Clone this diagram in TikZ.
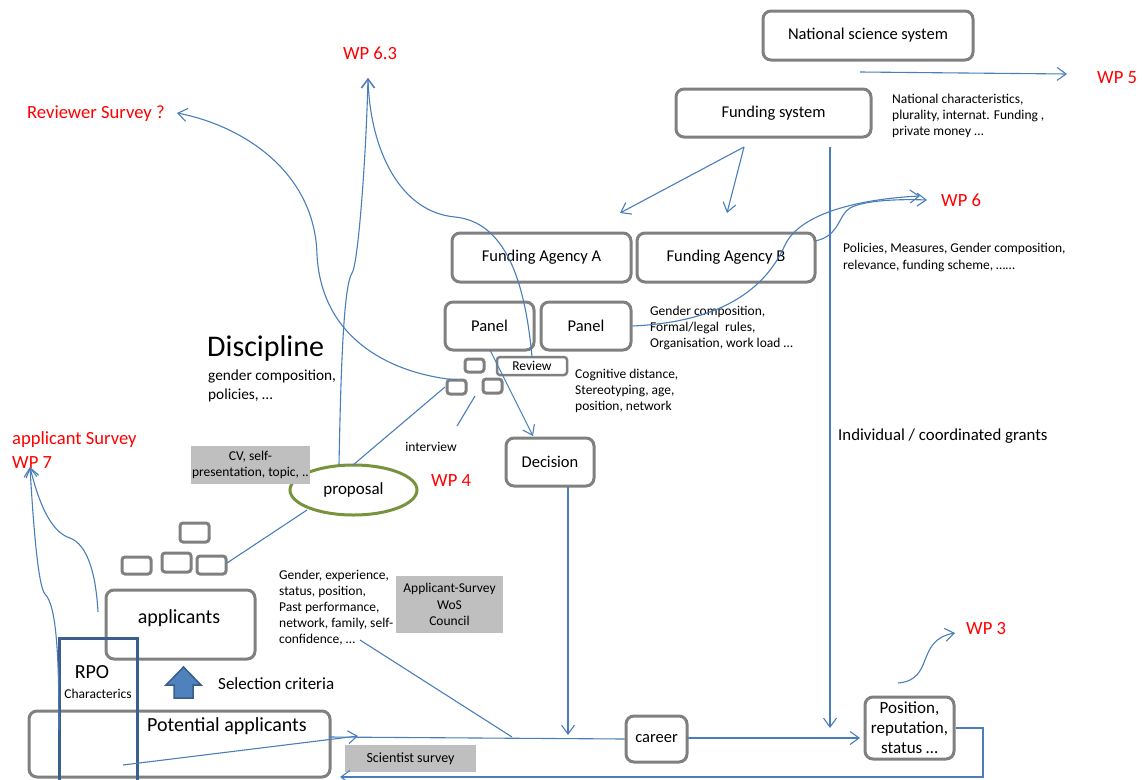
\documentclass[tikz,border=0pt]{standalone}
\usepackage{fontspec}
\setmainfont{Carlito}
\usetikzlibrary{arrows.meta,shapes.geometric}
\definecolor{boxgray}{HTML}{808080}
\definecolor{lblue}{HTML}{4A7EBB}
\definecolor{grayfill}{HTML}{BFBFBF}
\definecolor{pgreen}{HTML}{77933C}
\definecolor{rpoblue}{HTML}{3A5F8F}
\definecolor{selfill}{HTML}{4F81BD}
\definecolor{seldraw}{HTML}{385D8A}
\begin{document}
\begin{tikzpicture}[x=1pt,y=-1pt,
  gbox/.style={draw=boxgray, line width=3pt, rounded corners=8pt, inner sep=0pt, align=center, font=\fontsize{16.5}{20}\selectfont},
  sbox/.style={draw=boxgray, line width=3pt, rounded corners=3pt, inner sep=0pt},
  conn/.style={draw=lblue, line width=1.1pt},
  arr/.style={conn, -{Straight Barb[length=9pt,width=13pt]}},
  wp/.style={text=red, font=\fontsize{18.6}{24}\selectfont, inner sep=0pt, align=left},
  small/.style={font=\fontsize{13.5}{16}\selectfont, align=left, inner sep=0pt},
  gfill/.style={fill=grayfill, inner sep=0pt, align=center, font=\fontsize{13.5}{16.5}\selectfont},
  txt/.style={inner sep=0pt, font=\fontsize{17}{20}\selectfont},
]
\useasboundingbox (0,0) rectangle (1142,779);

% ---------- boxes ----------
\node[gbox, minimum width=210, minimum height=49] (nss) at (868,35.5) {National science system};
\node[gbox, minimum width=195, minimum height=48] (fs) at (773.5,113) {Funding system};
\node[gbox, minimum width=179, minimum height=49] (faA) at (541.5,257.5) {Funding Agency A};
\node[gbox, minimum width=178, minimum height=49] (faB) at (726,257.5) {Funding Agency B};
\node[gbox, minimum width=89, minimum height=48] (panel1) at (489.5,326) {Panel};
\node[gbox, minimum width=90, minimum height=48] (panel2) at (586,326) {Panel};
\node[sbox, line width=2.5pt, minimum width=70, minimum height=18, font=\fontsize{13.5}{16}\selectfont] (review) at (532,366) {Review};
\node[sbox, minimum width=19, minimum height=13] (sb1) at (474.5,365.5) {};
\node[sbox, minimum width=19, minimum height=14] (sb2) at (456.5,387) {};
\node[sbox, minimum width=19, minimum height=14] (sb3) at (492.5,386) {};
\node[gbox, minimum width=88, minimum height=48] (decision) at (550,462) {Decision};
\node[sbox, minimum width=29, minimum height=19] (ab1) at (194.5,532.5) {};
\node[sbox, minimum width=29, minimum height=17] (ab2) at (136.5,565.5) {};
\node[sbox, minimum width=29, minimum height=19] (ab3) at (176.5,562.5) {};
\node[sbox, minimum width=29, minimum height=18] (ab4) at (211.5,565) {};
\node[gbox, minimum width=149, minimum height=69] (applicants) at (180.5,624.5) {};
\node[gbox, minimum width=301, minimum height=66] (potential) at (179.5,744) {};
\node[gbox, minimum width=61, minimum height=46] (career) at (656.5,739) {career};
\node[gbox, minimum width=89, minimum height=62, font=\fontsize{17}{20}\selectfont] (position) at (909.5,728) {Position,\\reputation,\\status \dots};
\node[draw=pgreen, line width=3pt, ellipse, minimum width=127, minimum height=50, inner sep=0pt, font=\fontsize{17}{20}\selectfont] (proposal) at (353.5,490) {proposal};
\node[gfill, minimum width=119, minimum height=38] (cv) at (250.5,465) {CV, self-\\presentation, topic, ..};
\node[gfill, minimum width=107, minimum height=57] (appsurvey) at (449.5,604.5) {Applicant-Survey\\WoS\\Council};
\node[gfill, minimum width=131, minimum height=27, font=\fontsize{14}{16}\selectfont] (scisurvey) at (410.5,758.5) {Scientist survey};

% RPO box
\draw[draw=rpoblue, line width=3pt] (59,782) -- (59,638) -- (137,638) -- (137,782);
\node[txt, font=\fontsize{20}{24}\selectfont] (rpo) at (92,672) {RPO};
\node[small, anchor=center] (rpochar) at (98,694) {Characterics};

% selection arrow
\draw[fill=selfill, draw=seldraw, line width=1.5pt] (174,698) -- (174,685) -- (166,685) -- (183.5,667) -- (201,685) -- (193,685) -- (193,698) -- cycle;
\node[txt, anchor=west] (selcrit) at (218,684) {Selection criteria};

% ---------- texts ----------
\node[txt, font=\fontsize{20}{24}\selectfont] (applt) at (179,618) {applicants};
\node[txt, font=\fontsize{20}{24}\selectfont] (potlt) at (227,726) {Potential applicants};
\node[txt, anchor=west, font=\fontsize{30}{34}\selectfont] (discipline) at (207,348) {Discipline};
\node[small, anchor=west, font=\fontsize{15.3}{18.5}\selectfont] (disctext) at (208,386) {gender composition,\\policies, \dots};
\node[small, anchor=west] (natchar) at (892,116) {National characteristics,\\plurality, internat. Funding ,\\private money \dots};
\node[small, anchor=west, font=\fontsize{13.5}{17.5}\selectfont] (policies) at (843,257.5) {Policies, Measures, Gender composition,\\relevance, funding scheme, \dots\dots};
\node[small, anchor=west] (panelchar) at (650,328) {Gender composition,\\Formal/legal\ \ rules,\\Organisation, work load \dots};
\node[small, anchor=west] (cogn) at (575,391) {Cognitive distance,\\Stereotyping, age,\\position, network};
\node[small, anchor=west] (appchar) at (279,607.5) {Gender, experience,\\status, position,\\Past performance,\\network, family, self-\\confidence, \dots};
\node[small, anchor=center] (interview) at (431,447) {interview};
\node[txt, anchor=west, font=\fontsize{16.8}{20}\selectfont] (grants) at (838,436) {Individual / coordinated grants};

\node[wp, anchor=center] (wp63) at (370,53) {WP 6.3};
\node[wp, anchor=west] (wprev) at (27,114) {Reviewer Survey ?};
\node[wp, anchor=west] (wp5) at (1097,78) {WP 5};
\node[wp, anchor=west] (wp6) at (941,200) {WP 6};
\node[wp, anchor=west] (wp4) at (431,481) {WP 4};
\node[wp, anchor=west] (wp3) at (966,629) {WP 3};
\node[wp, anchor=west] (wp7) at (12,450) {applicant Survey\\WP 7};

% ---------- coordinates ----------
\coordinate (wp5tip) at (1067,74);
\coordinate (nssout) at (860,72);
\coordinate (fsout) at (744,147);
\coordinate (faAin) at (620,213);
\coordinate (faBin) at (727,213);
\coordinate (fsvert) at (830,147);
\coordinate (vertend) at (830,728);
\coordinate (wp6tipA) at (920,196);
\coordinate (wp6tipB) at (927,200);
\coordinate (faBout) at (815,241);
\coordinate (wp63tip) at (368,78);
\coordinate (revtop) at (532,357);
\coordinate (proptop) at (339,465);
\coordinate (revtip) at (177,113);
\coordinate (sb2l) at (457,380);
\coordinate (sb2b) at (445,387);
\coordinate (propnw) at (353,465);
\coordinate (intA) at (475,396);
\coordinate (intB) at (457,426);
\coordinate (panelout) at (490,350);
\coordinate (decin) at (533,436);
\coordinate (decout) at (568,487);
\coordinate (decend) at (568,735);
\coordinate (propsw) at (307,510);
\coordinate (ab4r) at (227,563);
\coordinate (wp7tip) at (30,467);
\coordinate (rpoline) at (59,730);
\coordinate (appl) at (98,612);
\coordinate (potin) at (123,765);
\coordinate (pottip) at (358,736);
\coordinate (horstart) at (329,737);
\coordinate (confend) at (360,640);
\coordinate (confjoin) at (512,737);
\coordinate (posin) at (860,738);
\coordinate (careerout) at (687,738);
\coordinate (loopcorner) at (983,777);
\coordinate (loopend) at (340,777);
\coordinate (wp3start) at (898,683);
\coordinate (wp3tip) at (955,633);

% ---------- connectors ----------
\draw[arr] (nssout) -- (wp5tip);
\draw[arr] (fsout) -- (faAin);
\draw[arr] (fsout) -- (faBin);
\draw[arr] (fsvert) -- (vertend);
\draw[arr] (panel2.east) .. controls (720,322) and (765,290) .. (785,245) .. controls (800,213) and (860,199) .. (wp6tipA);
\draw[arr] (faBout) .. controls (840,236) and (838,215) .. (850,208) .. controls (865,200) and (900,199) .. (wp6tipB);
\draw[arr] (revtop) .. controls (525,280) and (505,222) .. (455,217) .. controls (400,212) and (370,150) .. (wp63tip);
\draw[arr] (proptop) .. controls (341,360) and (344,285) .. (352,273) .. controls (358,265) and (366,160) .. (wp63tip);
\draw[arr] (sb2l) .. controls (400,375) and (322,345) .. (317,255) .. controls (315,170) and (240,125) .. (revtip);
\draw[conn] (sb2b) -- (propnw);
\draw[conn] (intA) -- (intB);
\draw[arr] (panelout) -- (decin);
\draw[arr] (decout) -- (decend);
\draw[conn] (propsw) -- (ab4r);
\draw[arr] (rpoline) .. controls (59,650) and (56,605) .. (45,594) .. controls (38,587) and (33,520) .. (wp7tip);
\draw[arr] (appl) .. controls (96,575) and (88,545) .. (70,538) .. controls (50,532) and (38,500) .. (wp7tip);
\draw[arr] (potin) -- (pottip);
\draw[conn] (horstart) -- (career.west);
\draw[conn] (confend) -- (confjoin);
\draw[arr] (careerout) -- (posin);
\draw[arr] (position.east) -| (loopcorner) -- (loopend);
\draw[arr] (wp3start) .. controls (935,680) and (915,640) .. (wp3tip);
\end{tikzpicture}
\end{document}
